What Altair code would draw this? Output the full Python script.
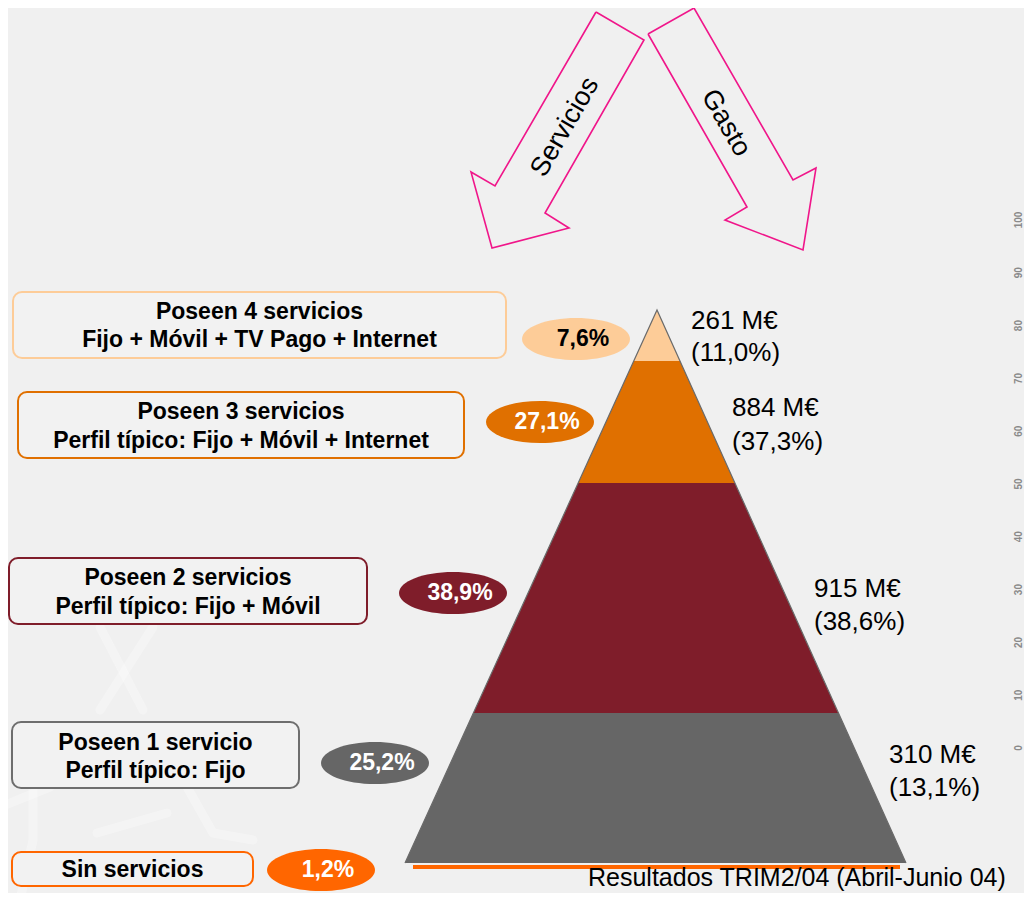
import altair as alt
import pandas as pd

# ---------------- DATA ----------------
grupos = ["Poseen 4 servicios", "Poseen 3 servicios", "Poseen 2 servicios",
          "Poseen 1 servicio", "Sin servicios"]
perfiles = ["Fijo + Móvil + TV Pago + Internet",
            "Perfil típico: Fijo + Móvil + Internet",
            "Perfil típico: Fijo + Móvil",
            "Perfil típico: Fijo",
            ""]
hogares_pct = [7.6, 27.1, 38.9, 25.2, 1.2]
gasto_meur = [261, 884, 915, 310]
gasto_pct = [11.0, 37.3, 38.6, 13.1]
flechas = ["Servicios", "Gasto"]
escala_ticks = [0, 10, 20, 30, 40, 50, 60, 70, 80, 90, 100]
fuente = "Resultados TRIM2/04 (Abril-Junio 04)"

# ---------------- STYLES ----------------
colores = ["#FDCC98", "#E07000", "#7F1D2A", "#666666", "#FF6600"]
borde_caja = ["#FDCC98", "#E07000", "#7F1D2A", "#6E6E6E", "#FF6600"]
color_txt_pct = ["#000000", "#FFFFFF", "#FFFFFF", "#FFFFFF", "#FFFFFF"]
ROSA = "#F0168A"
FONDO = "#F0F0F0"
FONT = "Liberation Sans"

# ---------------- LAYOUT (pixel frame of the page) ----------------
X0, X1 = 8, 1024
Y0, Y1 = 8, 893
W, H = X1 - X0, Y1 - Y0
xs = alt.Scale(domain=[X0, X1], nice=False, zero=False)
ys = alt.Scale(domain=[Y0, Y1], nice=False, zero=False, reverse=True)


def X(f, **kw):
    return alt.X(f, type="quantitative", scale=xs, axis=None, **kw)


def Y(f, **kw):
    return alt.Y(f, type="quantitative", scale=ys, axis=None, **kw)


caja_izq = [13, 18, 9, 12, 12]
caja_der = [506, 464, 367, 299, 253]
caja_sup = [292, 392, 558, 722, 852]
caja_inf = [358, 458, 624, 788, 886]
linea1_y = [312, 412, 578, 743, 870]
linea2_y = [340, 441, 607, 771, None]
elipse_x = [576, 540, 453, 375, 321]
elipse_y = [339, 422, 593, 763, 870]
ELIPSE_W = 108
etiq_x = [691, 732, 814, 889]
etiq_y1 = [321, 408, 589, 755]
etiq_y2 = [353, 442, 622, 788]

APEX = (657, 310)
BASE_Y = 863
BASE_L, BASE_R = 405, 906
capa_inf = [361, 483, 713, 863]

flecha_pts = {
    "Servicios": [(596, 12), (644, 40), (545, 213), (569, 228), (492, 248), (471, 172), (495, 186)],
    "Gasto": [(648, 34), (694, 8), (793, 180), (816, 168), (803, 250), (725, 220), (747, 207)],
}
flecha_txt = {"Servicios": (565, 127, 300), "Gasto": (726, 123, 60)}

fondo_lineas = [
    [(100, 627), (143, 710)], [(153, 627), (100, 710)],
    [(0, 807), (50, 787)], [(33, 787), (33, 840), (20, 900)],
    [(187, 787), (213, 833), (253, 840)], [(167, 813), (97, 833)],
]

# ---------------- LAYERS ----------------
bg_rows = []
for i, seg in enumerate(fondo_lineas):
    for j, (px, py) in enumerate(seg):
        bg_rows.append({"seg": i, "o": j, "x": px, "y": py})
bg = alt.Chart(pd.DataFrame(bg_rows)).mark_line(
    color="#FFFFFF", strokeWidth=9, opacity=0.3, strokeCap="round", strokeJoin="round"
).encode(x=X("x"), y=Y("y"), detail="seg:N", order="o:Q")

ar_rows = []
for name in flechas:
    pts = flecha_pts[name] + [flecha_pts[name][0]]
    for j, (px, py) in enumerate(pts):
        ar_rows.append({"flecha": name, "o": j, "x": px, "y": py})
arrows = alt.Chart(pd.DataFrame(ar_rows)).mark_line(
    color=ROSA, strokeWidth=1.6
).encode(x=X("x"), y=Y("y"), detail="flecha:N", order="o:Q")

at_rows = [{"t": n, "x": flecha_txt[n][0], "y": flecha_txt[n][1], "a": flecha_txt[n][2]} for n in flechas]
arrow_txt = alt.layer(*[
    alt.Chart(pd.DataFrame([r])).mark_text(
        font=FONT, fontSize=27, color="#000000", angle=r["a"], align="center", baseline="middle"
    ).encode(x=X("x"), y=Y("y"), text="t:N")
    for r in at_rows
])

box_df = pd.DataFrame({
    "g": grupos, "x": caja_izq, "x2": caja_der, "y": caja_sup, "y2": caja_inf, "c": borde_caja,
})
boxes = alt.Chart(box_df).mark_rect(
    cornerRadius=9, fill="#F2F2F2", strokeWidth=2
).encode(x=X("x"), x2="x2", y=Y("y"), y2="y2", stroke=alt.Stroke("c:N", scale=None))

bt_rows = []
for i in range(5):
    cx = (caja_izq[i] + caja_der[i]) / 2
    bt_rows.append({"t": grupos[i], "x": cx, "y": linea1_y[i]})
    if perfiles[i]:
        bt_rows.append({"t": perfiles[i], "x": cx, "y": linea2_y[i]})
box_txt = alt.Chart(pd.DataFrame(bt_rows)).mark_text(
    font=FONT, fontSize=23, fontWeight="bold", color="#000000", align="center", baseline="middle"
).encode(x=X("x"), y=Y("y"), text="t:N")


# pyramid
def edge(yy):
    f = (yy - APEX[1]) / (BASE_Y - APEX[1])
    return APEX[0] + f * (BASE_L - APEX[0]), APEX[0] + f * (BASE_R - APEX[0])


py_rows = []
tops = [APEX[1]] + capa_inf[:-1]
for i, (t, b) in enumerate(zip(tops, capa_inf)):
    for yy in (t, b):
        xl, xr = edge(yy)
        py_rows.append({"capa": grupos[i], "y": yy, "xl": xl, "xr": xr, "c": colores[i]})
pyramid = alt.Chart(pd.DataFrame(py_rows)).mark_area(orient="horizontal", opacity=1).encode(
    y=Y("y"), x=X("xl", stack=None), x2="xr", color=alt.Color("c:N", scale=None)
)

out_rows = [
    {"o": 0, "x": BASE_L, "y": BASE_Y},
    {"o": 1, "x": APEX[0], "y": APEX[1]},
    {"o": 2, "x": BASE_R, "y": BASE_Y},
]
outline = alt.Chart(pd.DataFrame(out_rows)).mark_line(color="#6A6A6A", strokeWidth=1.2).encode(
    x=X("x"), y=Y("y"), order="o:Q"
)

base_rule = alt.Chart(pd.DataFrame({"x": [413], "x2": [900], "y": [867]})).mark_rule(
    color="#FF6600", strokeWidth=4
).encode(x=X("x"), x2="x2", y=Y("y"))

ELIPSE = "M -1 0 A 1 0.39 0 1 1 1 0 A 1 0.39 0 1 1 -1 0 Z"
el_df = pd.DataFrame({
    "x": elipse_x, "y": elipse_y, "c": colores,
    "t": [f"{v:.1f}".replace(".", ",") + "%" for v in hogares_pct],
    "tc": color_txt_pct,
    "tx": [v + 7 for v in elipse_x],
})
ellipses = alt.Chart(el_df).mark_point(
    shape=ELIPSE, filled=True, opacity=1, size=ELIPSE_W ** 2, strokeWidth=0
).encode(x=X("x"), y=Y("y"), color=alt.Color("c:N", scale=None))
ell_txt = alt.Chart(el_df).mark_text(
    font=FONT, fontSize=23, fontWeight="bold", align="center", baseline="middle"
).encode(x=X("tx"), y=Y("y"), text="t:N", color=alt.Color("tc:N", scale=None))

lab_rows = []
for i in range(4):
    lab_rows.append({"t": f"{gasto_meur[i]} M€", "x": etiq_x[i], "y": etiq_y1[i]})
    lab_rows.append({"t": "(" + f"{gasto_pct[i]:.1f}".replace(".", ",") + "%)", "x": etiq_x[i], "y": etiq_y2[i]})
labels = alt.Chart(pd.DataFrame(lab_rows)).mark_text(
    font=FONT, fontSize=26, color="#000000", align="left", baseline="middle"
).encode(x=X("x"), y=Y("y"), text="t:N")

AX_Y0, AX_STEP = 748, 5.28
tick_df = pd.DataFrame({
    "t": [str(v) for v in escala_ticks],
    "y": [AX_Y0 - v * AX_STEP for v in escala_ticks],
    "x": [1022] * len(escala_ticks),
})
faint_axis = alt.Chart(tick_df).mark_text(
    font=FONT, fontSize=10, fontWeight="bold", color="#8A8A8A", angle=270,
    align="center", baseline="alphabetic"
).encode(x=X("x"), y=Y("y"), text="t:N")

src = alt.Chart(pd.DataFrame({"t": [fuente], "x": [588], "y": [878]})).mark_text(
    font=FONT, fontSize=25, color="#000000", align="left", baseline="middle"
).encode(x=X("x"), y=Y("y"), text="t:N")

chart = alt.layer(
    bg, arrows, arrow_txt, boxes, box_txt, pyramid, outline, base_rule,
    ellipses, ell_txt, labels, faint_axis, src
).properties(
    width=W, height=H, padding=0, autosize=alt.AutoSizeParams(type="none")
).configure(background=FONDO).configure_view(stroke=None)

chart.save("out.html", embed_options={"renderer": "svg", "actions": False})
